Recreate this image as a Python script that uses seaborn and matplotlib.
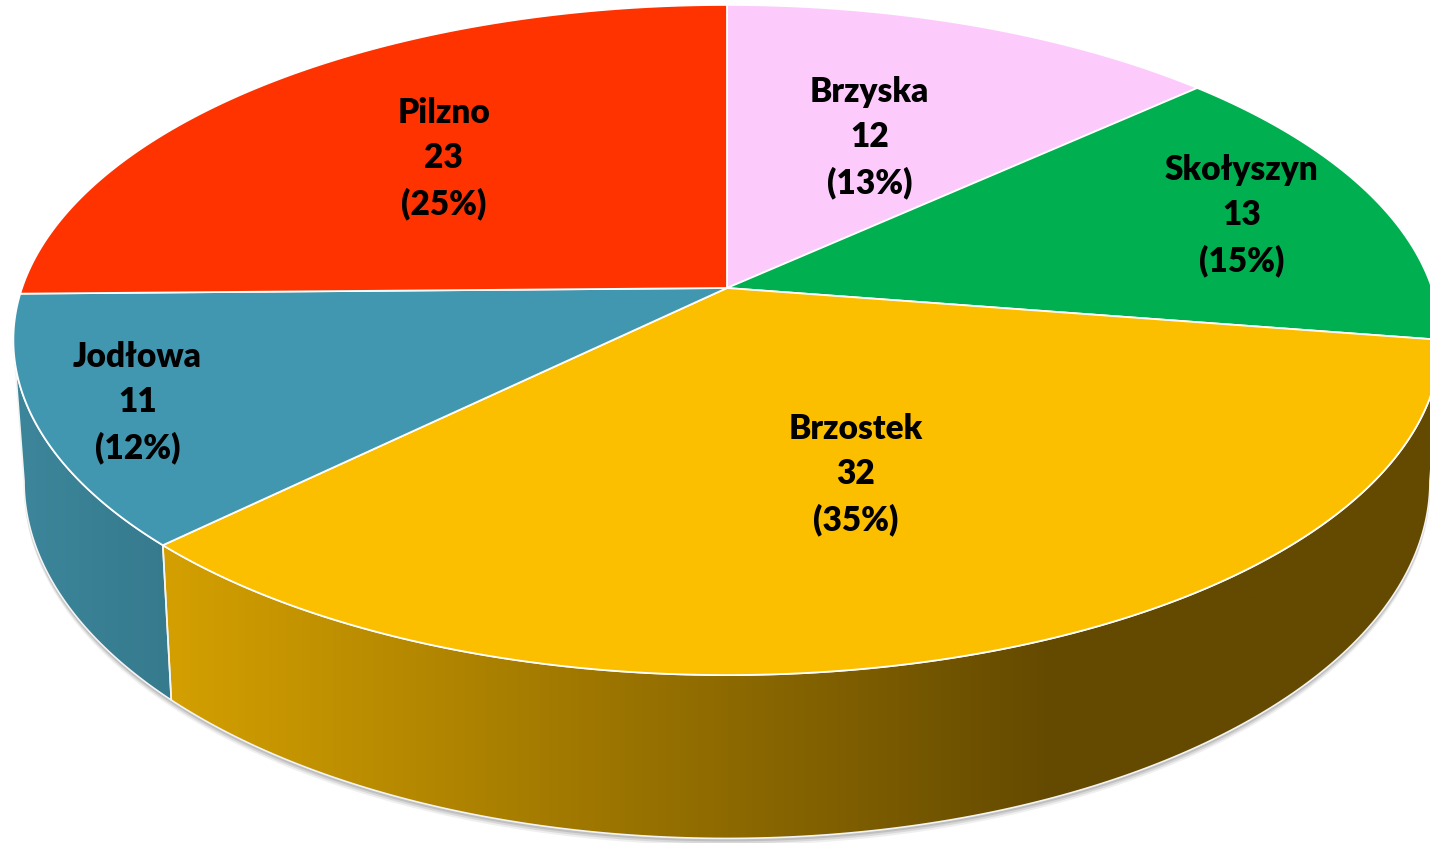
import numpy as np
import matplotlib.pyplot as plt
import seaborn as sns
from matplotlib.patches import Polygon

# dane
gminy = ["Brzyska", "Skołyszyn", "Brzostek", "Jodłowa", "Pilzno"]
wartosci = [12, 13, 32, 11, 23]
procenty = ["13%", "15%", "35%", "12%", "25%"]

# kolory: gora plastra i bok (lewy -> prawy koniec gradientu)
kolory_gora = ["#FCCBFC", "#00AF50", "#FBBF00", "#4197AF", "#FF3300"]
kolory_bok = [("#C9A0C9", "#9C7A9C"), ("#008C40", "#006A30"),
              ("#D4A000", "#644A00"), ("#3C869B", "#367A8D"),
              ("#CC2900", "#991F00")]
# gdzie stoi etykieta (ulamek promienia)
etykieta_r = [0.54, 0.79, 0.55, 0.86, 0.60]

sns.set_theme(style="white")
plt.rcParams["font.family"] = ["Lato", "DejaVu Sans"]

# geometria "3D" (perspektywa)
cx, cy = 727, 288
a, b, k = 705, 327, 0.1552
glebokosc, skala_dol = 138, 0.985


def rzut(theta, r=1.0, dol=False):
    t = np.radians(theta)
    u, v = r * np.sin(t), r * np.cos(t)
    w = 1 + k * v
    if dol:
        return cx + a * skala_dol * u / w, cy - b * v / w + glebokosc / w
    return cx + a * u / w, cy - b * v / w


fig = plt.figure(figsize=(14.3, 8.43), dpi=100)
ax = fig.add_axes([0, 0, 1, 1])
ax.set_xlim(0, 1430)
ax.set_ylim(843, 0)
ax.axis("off")

katy = np.cumsum([0] + wartosci) / sum(wartosci) * 360
widok = (np.degrees(np.arccos(-k)), 360 - np.degrees(np.arccos(-k)))

# cien pod tortem
th_all = np.linspace(widok[0], widok[1], 300)
xs, ys = rzut(th_all, dol=True)
for i, off in enumerate([7, 5, 3]):
    ax.add_patch(Polygon(np.column_stack([np.r_[xs, xs[::-1]], np.r_[ys + off, ys[::-1] - 40]]),
                         closed=True, fc="#808080", ec="none", alpha=0.12 + 0.08 * i, zorder=1))

# boki
for i in range(len(gminy)):
    t0, t1 = max(katy[i], widok[0]), min(katy[i + 1], widok[1])
    if t1 <= t0:
        continue
    th = np.linspace(t0, t1, 200)
    xt, yt = rzut(th)
    xb, yb = rzut(th, dol=True)
    pts = np.column_stack([np.r_[xt, xb[::-1]], np.r_[yt, yb[::-1]]])
    poly = Polygon(pts, closed=True, fc="none", ec="#F4F4F4", lw=1.2, zorder=3)
    ax.add_patch(poly)
    x0, x1 = pts[:, 0].min(), pts[:, 0].max()
    paleta = sns.blend_palette(list(kolory_bok[i]), 256)
    if i == 2:
        # ciemnieje do ok. 3/4 szerokosci, dalej stale
        n_grad = int(256 * 0.7)
        paleta = sns.blend_palette(list(kolory_bok[i]), n_grad) + [paleta[-1]] * (256 - n_grad)
    grad = np.array(paleta)[None, :, :]
    im = ax.imshow(grad, extent=[x0, x1, pts[:, 1].max(), pts[:, 1].min()],
                   aspect="auto", zorder=2, interpolation="bilinear")
    im.set_clip_path(poly)

# gorne powierzchnie
for i in range(len(gminy)):
    th = np.linspace(katy[i], katy[i + 1], 200)
    xt, yt = rzut(th)
    pts = np.column_stack([np.r_[cx, xt], np.r_[cy, yt]])
    ax.add_patch(Polygon(pts, closed=True, fc=kolory_gora[i], ec="white", lw=1.3,
                         joinstyle="round", zorder=4))

# etykiety
for i in range(len(gminy)):
    srodek = (katy[i] + katy[i + 1]) / 2
    x, y = rzut(srodek, etykieta_r[i])
    ax.text(x, y, f"{gminy[i]}\n{wartosci[i]}\n({procenty[i]})", ha="center", va="center",
            fontsize=24, fontweight="heavy", color="black", linespacing=1.5, zorder=5)

fig.savefig("out.png", dpi=100)
